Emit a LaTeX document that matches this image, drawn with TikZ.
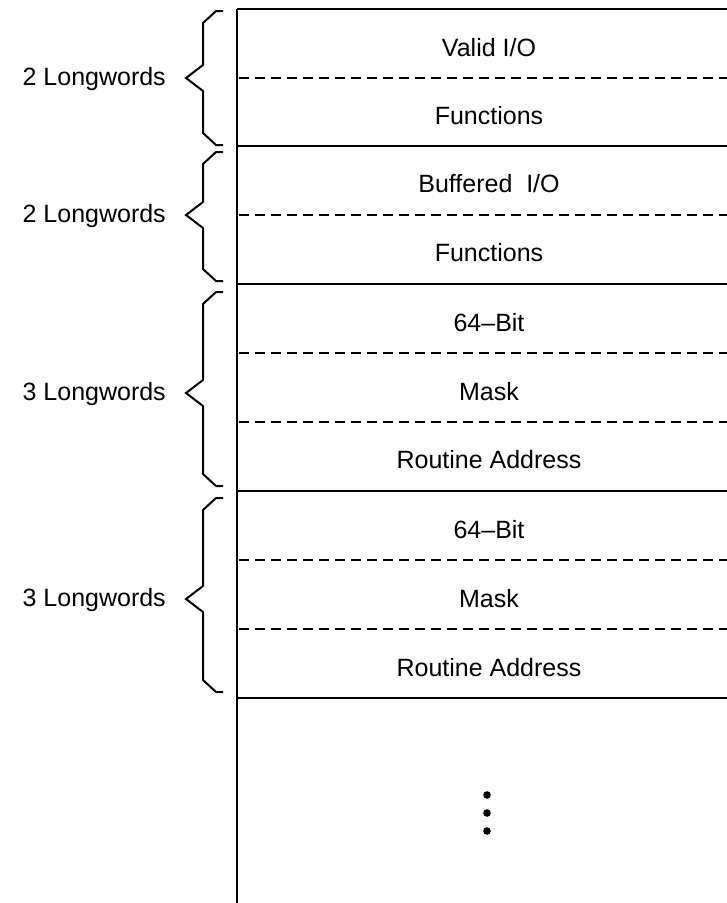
\documentclass[tikz,border=0pt]{standalone}
\usepackage{fontspec}
\setmainfont{Liberation Sans}
\begin{document}
\begin{tikzpicture}[x=1pt,y=-1pt,
  solidrule/.style={line width=2.8pt},
  dashrule/.style={line width=2.4pt,dash pattern=on 10pt off 6pt},
  bracestyle/.style={line width=2pt,line join=miter},
  fieldtext/.style={inner sep=0pt,anchor=base,font=\fontsize{25}{30}\selectfont},
  sizetext/.style={inner sep=0pt,anchor=base east,font=\fontsize{25}{30}\selectfont},
  dotstyle/.style={circle,fill=black,inner sep=0pt,minimum size=7.6pt}]
\useasboundingbox (0,0) rectangle (727,903);
% vertical spine
\coordinate (spinetop) at (237,9);
\coordinate (spinebot) at (237,903);
\draw[solidrule] (spinetop) -- (spinebot);
% solid separators
\foreach \y/\n in {9/s0,146/s1,284/s2,491/s3,698/s4}{
  \coordinate (\n L) at (237,\y);
  \coordinate (\n R) at (727,\y);
  \draw[solidrule] (\n L) -- (\n R);
}
% dashed separators
\foreach \y/\n in {78/d1,215/d2,353/d3,422/d4,560/d5,629/d6}{
  \coordinate (\n L) at (238.5,\y);
  \coordinate (\n R) at (727,\y);
  \draw[dashrule] (\n L) -- (\n R);
}
% field texts
\node[fieldtext] (t1) at (489,56) {Valid I/O};
\node[fieldtext] (t2) at (489,124) {Functions};
\node[fieldtext] (t3) at (489,192) {Buffered\ \ I/O};
\node[fieldtext] (t4) at (489,261) {Functions};
\node[fieldtext] (t5) at (489,331) {64\textendash Bit};
\node[fieldtext] (t6) at (489,400) {Mask};
\node[fieldtext] (t7) at (489,468) {Routine Address};
\node[fieldtext] (t8) at (489,538) {64\textendash Bit};
\node[fieldtext] (t9) at (489,607) {Mask};
\node[fieldtext] (t10) at (489,676) {Routine Address};
% braces
\foreach \yt/\ym/\yb in {11/78/145,152/215/281,292/393/486,498/599/692}{
  \draw[bracestyle] (223,\yt) -- (216,\yt) -- (203,\yt+12) -- (203,\ym-13)
    -- (186,\ym) -- (203,\ym+13) -- (203,\yb-12) -- (216,\yb) -- (223,\yb);
}
% size labels
\node[sizetext] (l1) at (166,85.5) {2 Longwords};
\node[sizetext] (l2) at (166,222.5) {2 Longwords};
\node[sizetext] (l3) at (166,400.5) {3 Longwords};
\node[sizetext] (l4) at (166,606.5) {3 Longwords};
% continuation dots
\node[dotstyle] (dot1) at (487,795) {};
\node[dotstyle] (dot2) at (487,813) {};
\node[dotstyle] (dot3) at (487,831) {};
\end{tikzpicture}
\end{document}
